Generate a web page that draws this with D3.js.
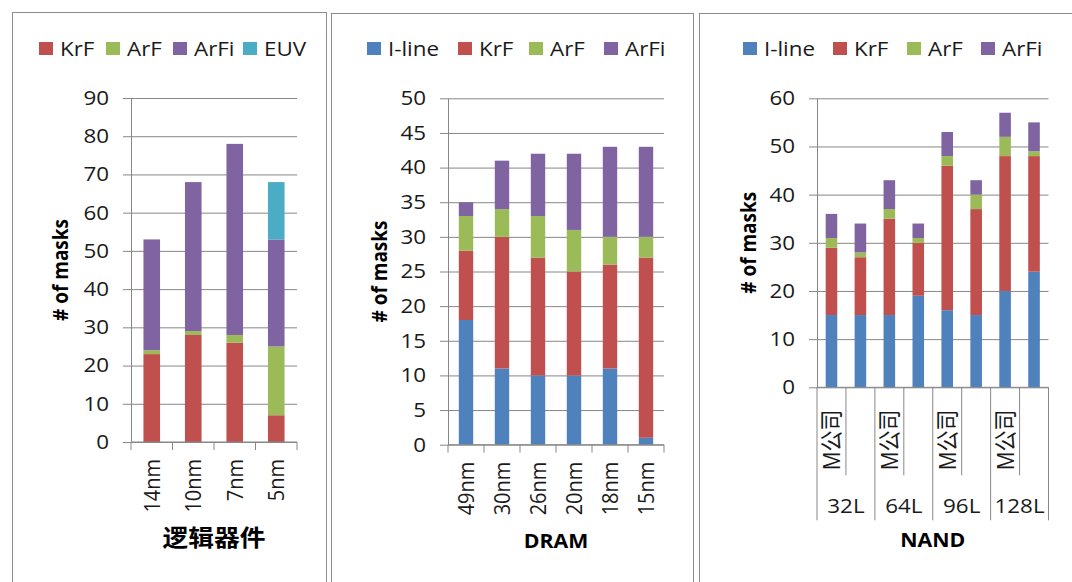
<!DOCTYPE html>
<html>
<head>
<meta charset="utf-8">
<script src="https://cdn.jsdelivr.net/npm/d3@7"></script>
<style>
  html, body { margin: 0; padding: 0; background: #fff; }
  svg { display: block; }
  text { font-family: 'Open Sans', 'Noto Sans CJK SC', sans-serif; fill: #1a1a1a; }
  .tick-label { font-size: 20px; }
  .axis-title { font-size: 19px; font-weight: bold; fill: #000; }
  .cjk-title { font-family: 'Noto Sans CJK SC', sans-serif; font-size: 23px; font-weight: bold; fill: #000; }
</style>
</head>
<body>
<div id="chart"></div>
<script>
// logic devices
const logicCategories = ['14nm', '10nm', '7nm', '5nm'];
const logicKrF = [23, 28, 26, 7];
const logicArF = [1, 1, 2, 18];
const logicArFi = [29, 39, 50, 28];
const logicEUV = [0, 0, 0, 15];

// DRAM
const dramCategories = ['49nm', '30nm', '26nm', '20nm', '18nm', '15nm'];
const dramIline = [18, 11, 10, 10, 11, 1];
const dramKrF = [10, 19, 17, 15, 15, 26];
const dramArF = [5, 4, 6, 6, 4, 3];
const dramArFi = [2, 7, 9, 11, 13, 13];

// NAND (two bars per layer group, first one labelled)
const nandGroups = ['32L', '64L', '96L', '128L'];
const nandSubLabels = ['M公司', ''];
const nandIline = [15, 15, 15, 19, 16, 15, 20, 24];
const nandKrF = [14, 12, 20, 11, 30, 22, 28, 24];
const nandArF = [2, 1, 2, 1, 2, 3, 4, 1];
const nandArFi = [5, 6, 6, 3, 5, 3, 5, 6];

const colors = { 'I-line': '#4f81bd', KrF: '#c0504d', ArF: '#9bbb59', ArFi: '#8064a2', EUV: '#4bacc6' };
const gridColor = '#878787';
const SX = 1.12; // the reference text is a little wider than it is tall

const svg = d3.select('#chart').append('svg')
  .attr('width', 1072)
  .attr('height', 582);

const stretch = (x, y, rot) => `translate(${x},${y}) scale(${SX},1)` + (rot ? ` rotate(${rot})` : '');

function drawPanel(p) {
  const g = svg.append('g');

  // panel border
  g.append('rect')
    .attr('x', p.frame[0] + 0.5)
    .attr('y', p.frame[1] + 0.5)
    .attr('width', p.frame[2])
    .attr('height', 640)
    .attr('fill', 'none')
    .attr('stroke', '#8c8c8c');

  const rows = p.categories.map((c, i) => {
    const r = { i };
    p.keys.forEach((k, j) => { r[k] = p.series[j][i]; });
    return r;
  });

  const x = d3.scaleBand()
    .domain(d3.range(rows.length))
    .range([p.x0, p.x1])
    .paddingInner(0.6)
    .paddingOuter(0.3);

  const y = d3.scaleLinear().domain([0, p.yMax]).range([p.y0, p.yTop]);
  const ticks = d3.range(0, p.yMax + 1, p.yStep);

  // gridlines
  const grid = g.append('g')
    .attr('transform', `translate(${p.x0},0)`)
    .call(d3.axisLeft(y).tickValues(ticks).tickSize(-(p.x1 - p.x0)).tickFormat(''));
  grid.select('.domain').remove();
  grid.selectAll('line').attr('stroke', gridColor);

  // bars
  const stacked = d3.stack().keys(p.keys)(rows);
  g.append('g')
    .selectAll('g')
    .data(stacked)
    .join('g')
    .attr('fill', d => colors[d.key])
    .selectAll('rect')
    .data(d => d)
    .join('rect')
    .attr('x', (d, i) => x(i))
    .attr('y', d => y(d[1]))
    .attr('width', x.bandwidth())
    .attr('height', d => y(d[0]) - y(d[1]));

  // y axis
  const ya = g.append('g')
    .attr('transform', `translate(${p.x0},0)`)
    .call(d3.axisLeft(y).tickValues(ticks).tickSize(8).tickSizeOuter(0).tickPadding(14));
  ya.select('.domain').attr('stroke', gridColor);
  ya.selectAll('line').attr('stroke', gridColor);
  ya.selectAll('text')
    .attr('class', 'tick-label')
    .attr('x', null)
    .attr('transform', stretch(-22, 0));

  // x axis: category boundaries
  const bounds = d3.range(rows.length + 1)
    .map(i => i < rows.length ? x(i) + x.bandwidth() / 2 - x.step() / 2 : p.x1);

  g.append('line')
    .attr('x1', p.x0).attr('x2', p.x1)
    .attr('y1', p.y0).attr('y2', p.y0)
    .attr('stroke', gridColor);

  if (p.groups) {
    const per = rows.length / p.groups.length;
    g.selectAll('.bound')
      .data(bounds)
      .join('line')
      .attr('x1', d => d).attr('x2', d => d)
      .attr('y1', p.y0)
      .attr('y2', (d, i) => i % per === 0 ? p.y0 + 133 : p.y0 + 88)
      .attr('stroke', gridColor);

    g.selectAll('.sub-label')
      .data(rows.filter(r => p.subLabels[r.i % per]))
      .join('text')
      .attr('class', 'tick-label')
      .style('font-size', '21px')
      .attr('text-anchor', 'start')
      .attr('transform', r => stretch(x(r.i) + x.bandwidth() / 2 + 9, p.y0 + 83, -90))
      .text(r => p.subLabels[r.i % per]);

    g.selectAll('.group-label')
      .data(p.groups)
      .join('text')
      .attr('class', 'tick-label')
      .attr('text-anchor', 'middle')
      .attr('transform', (d, gi) => stretch((bounds[gi * per] + bounds[(gi + 1) * per]) / 2, p.y0 + 126))
      .text(d => d);
  } else {
    g.selectAll('.bound')
      .data(bounds)
      .join('line')
      .attr('x1', d => d).attr('x2', d => d)
      .attr('y1', p.y0).attr('y2', p.y0 + 8)
      .attr('stroke', gridColor);

    g.selectAll('.cat-label')
      .data(rows)
      .join('text')
      .attr('class', 'tick-label')
      .attr('text-anchor', 'end')
      .attr('transform', r => stretch(x(r.i) + x.bandwidth() / 2 + 8, p.y0 + 17, -90))
      .text(r => p.categories[r.i]);
  }

  // axis titles
  g.append('text')
    .attr('class', 'axis-title')
    .attr('text-anchor', 'middle')
    .attr('transform', stretch(p.yTitleX, (p.y0 + p.yTop) / 2, -90))
    .text('# of masks');

  g.append('text')
    .attr('class', p.titleClass)
    .attr('text-anchor', 'middle')
    .attr('transform', stretch((p.x0 + p.x1) / 2, p.titleY))
    .text(p.title);

  // legend
  const leg = g.selectAll('.legend')
    .data(p.keys)
    .join('g')
    .attr('transform', (k, i) => `translate(${p.legendX[i]},42)`);
  leg.append('rect')
    .attr('width', 14)
    .attr('height', 13)
    .attr('fill', k => colors[k]);
  leg.append('text')
    .attr('class', 'tick-label')
    .attr('transform', stretch(21, 14))
    .text(k => k);
}

drawPanel({
  frame: [12, 12, 314],
  categories: logicCategories,
  keys: ['KrF', 'ArF', 'ArFi', 'EUV'],
  series: [logicKrF, logicArF, logicArFi, logicEUV],
  x0: 131, x1: 297, yTop: 98, y0: 442,
  yMax: 90, yStep: 10,
  yTitleX: 68,
  title: '逻辑器件', titleClass: 'cjk-title', titleY: 546,
  legendX: [39, 106, 173, 243]
});

drawPanel({
  frame: [331, 13, 362],
  categories: dramCategories,
  keys: ['I-line', 'KrF', 'ArF', 'ArFi'],
  series: [dramIline, dramKrF, dramArF, dramArFi],
  x0: 448, x1: 664, yTop: 98.3, y0: 444.7,
  yMax: 50, yStep: 5,
  yTitleX: 387,
  title: 'DRAM', titleClass: 'axis-title', titleY: 548,
  legendX: [367, 458, 529, 604]
});

drawPanel({
  frame: [699, 13, 400],
  categories: d3.range(nandIline.length),
  groups: nandGroups,
  subLabels: nandSubLabels,
  keys: ['I-line', 'KrF', 'ArF', 'ArFi'],
  series: [nandIline, nandKrF, nandArF, nandArFi],
  x0: 817, x1: 1048.5, yTop: 98.3, y0: 387.3,
  yMax: 60, yStep: 10,
  yTitleX: 756,
  title: 'NAND', titleClass: 'axis-title', titleY: 547,
  legendX: [743, 833, 907, 981]
});
</script>
</body>
</html>
